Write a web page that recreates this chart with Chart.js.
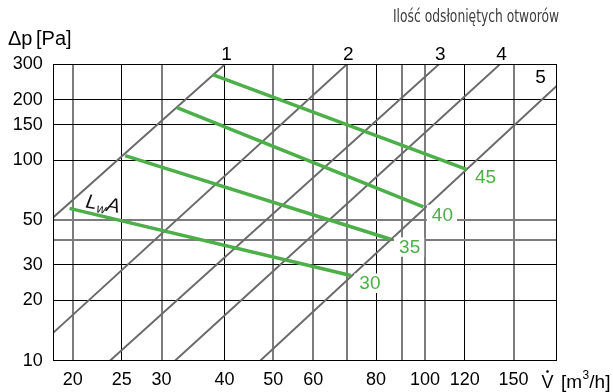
<!DOCTYPE html>
<html>
<head>
<meta charset="utf-8">
<script src="https://cdn.jsdelivr.net/npm/chart.js@4/dist/chart.umd.min.js"></script>
<style>
  html, body { margin: 0; padding: 0; background: #fff; }
  canvas { display: block; }
</style>
</head>
<body>
<canvas id="chart" width="613" height="392"></canvas>
<script>
// Characteristic lines: flow V [m3/h] and pressure drop Δp [Pa] for 1..5 open holes
const openingLabels = ['1', '2', '3', '4', '5'];
const openingFlow = [[18.3, 40.1], [18.3, 70.0], [23.7, 106.6], [31.9, 140.9], [47.1, 182.6]];
const openingPressure = [[51.9, 300], [13.8, 300], [10, 300], [10, 300], [10, 233.8]];

// Sound power level lines LwA [dB(A)]
const noiseLabels = ['30', '35', '40', '45'];
const noiseFlow = [[19.7, 71.3], [25.4, 85.5], [32.2, 99.3], [37.9, 121.0]];
const noisePressure = [[57.4, 26.6], [105.1, 40.3], [182.3, 58.5], [266.3, 89.9]];

// Axes
const flowRange = [18.29, 182.65];
const pressureRange = [10, 300];
const flowTicks = [20, 25, 30, 40, 50, 60, 70, 80, 90, 100, 120, 150];
const flowTickLabels = [20, 25, 30, 40, 50, 60, 80, 100, 120, 150];
const pressureTicks = [10, 20, 30, 40, 50, 100, 150, 200, 300];
const pressureTickLabels = [10, 20, 30, 50, 100, 150, 200, 300];
const flowGreyGrid = [20, 30, 50, 60, 70, 90, 100, 150];
const pressureGreyGrid = [40, 50];

const FONT = "'Liberation Sans', Arial, sans-serif";
const GREEN = '#4caf48';
const GREY_LINE = '#6a6a6a';
const GREY_GRID = '#7c7c7c';

function toPoints(xs, ys) {
  return xs.map((v, i) => ({ x: v, y: ys[i] }));
}

const datasets = [];
noiseLabels.forEach((lab, i) => {
  datasets.push({
    label: 'LwA ' + lab,
    data: toPoints(noiseFlow[i], noisePressure[i]),
    borderColor: GREEN,
    borderWidth: 3.5,
    pointRadius: 0,
    order: 0,
    clip: 0
  });
});
openingLabels.forEach((lab, i) => {
  datasets.push({
    label: lab,
    data: toPoints(openingFlow[i], openingPressure[i]),
    borderColor: GREY_LINE,
    borderWidth: 2,
    pointRadius: 0,
    order: 1,
    clip: 0
  });
});

const annotations = {
  id: 'annotations',
  afterDraw(chart) {
    const { ctx, chartArea: a, scales: { x, y } } = chart;
    ctx.save();

    // plot frame
    ctx.strokeStyle = '#000';
    ctx.lineWidth = 1;
    const l = Math.floor(a.left) + 0.5, t = Math.floor(a.top) + 0.5;
    const r = Math.floor(a.right) + 0.5, b = Math.floor(a.bottom) + 0.5;
    ctx.strokeRect(l, t, r - l, b - t);

    ctx.textBaseline = 'alphabetic';

    // number of open holes at each characteristic line
    ctx.fillStyle = '#000';
    ctx.textAlign = 'center';
    ctx.font = `19px ${FONT}`;
    openingLabels.forEach((lab, i) => {
      const px = x.getPixelForValue(openingFlow[i][1]);
      const py = y.getPixelForValue(openingPressure[i][1]);
      if (py <= a.top + 1) {
        ctx.fillText(lab, px + 1.5, a.top - 4.5);
      } else {
        ctx.fillText(lab, px - 16, py - 3.5);
      }
    });

    // sound level labels at the line ends
    ctx.font = `19px ${FONT}`;
    noiseLabels.forEach((lab, i) => {
      const px = x.getPixelForValue(noiseFlow[i][1]);
      const py = y.getPixelForValue(noisePressure[i][1]);
      const cx = px + 19, base = py + 14;
      const w = ctx.measureText(lab).width;
      ctx.fillStyle = '#fff';
      ctx.fillRect(cx - w / 2 - 5, base - 16, w + 9, 19.5);
      ctx.fillStyle = GREEN;
      ctx.fillText(lab, cx, base);
    });

    // LwA caption along the lowest sound line
    {
      const sx = x.getPixelForValue(noiseFlow[0][0]);
      const sy = y.getPixelForValue(noisePressure[0][0]);
      const ex = x.getPixelForValue(noiseFlow[0][1]);
      const ey = y.getPixelForValue(noisePressure[0][1]);
      const ang = Math.atan2(ey - sy, ex - sx) * 0.7;
      ctx.save();
      ctx.translate(sx + 15.5, sy - 1);
      ctx.rotate(ang);
      ctx.fillStyle = '#111';
      ctx.textAlign = 'left';
      ctx.font = `italic 20px ${FONT}`;
      ctx.fillText('L', 0, 0);
      const w1 = ctx.measureText('L').width;
      ctx.font = `italic 13px ${FONT}`;
      ctx.fillText('w', w1 + 0.5, 3);
      const w2 = ctx.measureText('w').width;
      ctx.font = `italic 20px ${FONT}`;
      ctx.fillText('A', w1 + w2 + 0.5, 0);
      ctx.restore();
    }

    // header
    {
      const txt = 'Ilość odsłoniętych otworów';
      ctx.font = "17.5px 'Liberation Sans Narrow', 'DejaVu Sans Condensed', sans-serif";
      const w = ctx.measureText(txt).width;
      ctx.save();
      ctx.translate(393, 22);
      ctx.scale(166 / w, 1);
      ctx.fillStyle = '#3c3c3c';
      ctx.textAlign = 'left';
      ctx.fillText(txt, 0, 0);
      ctx.restore();
    }

    // y axis title
    ctx.fillStyle = '#000';
    ctx.textAlign = 'left';
    ctx.font = `20px ${FONT}`;
    ctx.fillText('Δp', 8, 45);
    ctx.fillText('[Pa]', 36, 45);

    // x axis title: V-dot [m3/h]
    {
      let cx = 541.5;
      const base = 388;
      ctx.font = `18px ${FONT}`;
      ctx.fillText('V', cx, base);
      const vw = ctx.measureText('V').width;
      ctx.beginPath();
      ctx.arc(cx + vw / 2, 371.5, 1.3, 0, Math.PI * 2);
      ctx.fill();
      cx = 561;
      ctx.font = `19px ${FONT}`;
      ctx.fillText('[m', cx, base);
      cx += ctx.measureText('[m').width;
      ctx.font = `12px ${FONT}`;
      ctx.fillText('3', cx + 0.5, base - 9);
      cx += ctx.measureText('3').width + 0.5;
      ctx.font = `19px ${FONT}`;
      ctx.fillText('/h]', cx, base);
    }

    ctx.restore();
  }
};

new Chart(document.getElementById('chart'), {
  type: 'line',
  data: { datasets },
  options: {
    responsive: false,
    animation: false,
    devicePixelRatio: 1,
    parsing: false,
    layout: { padding: { top: 64.3, right: 56.3, left: 0, bottom: 0 } },
    plugins: { legend: { display: false }, tooltip: { enabled: false } },
    elements: { line: { tension: 0 } },
    scales: {
      x: {
        type: 'logarithmic',
        min: flowRange[0],
        max: flowRange[1],
        afterBuildTicks: s => { s.ticks = flowTicks.map(v => ({ value: v })); },
        afterFit: s => { s.height = 31.3; },
        border: { display: false },
        grid: {
          drawTicks: false,
          color: c => flowGreyGrid.includes(c.tick && c.tick.value) ? GREY_GRID : '#000',
          lineWidth: c => flowGreyGrid.includes(c.tick && c.tick.value) ? 2 : 1
        },
        ticks: {
          autoSkip: false,
          maxRotation: 0,
          padding: 9,
          color: '#000',
          font: { family: FONT, size: 18 },
          callback: v => flowTickLabels.includes(v) ? String(v) : ''
        }
      },
      y: {
        type: 'logarithmic',
        min: pressureRange[0],
        max: pressureRange[1],
        afterBuildTicks: s => { s.ticks = pressureTicks.map(v => ({ value: v })); },
        afterFit: s => { s.width = 53.3; },
        border: { display: false },
        grid: {
          drawTicks: false,
          color: c => pressureGreyGrid.includes(c.tick && c.tick.value) ? GREY_GRID : '#000',
          lineWidth: c => pressureGreyGrid.includes(c.tick && c.tick.value) ? 2 : 1
        },
        ticks: {
          autoSkip: false,
          padding: 10.6,
          color: '#000',
          font: { family: FONT, size: 18 },
          callback: v => pressureTickLabels.includes(v) ? String(v) : ''
        }
      }
    }
  },
  plugins: [annotations]
});
</script>
</body>
</html>
